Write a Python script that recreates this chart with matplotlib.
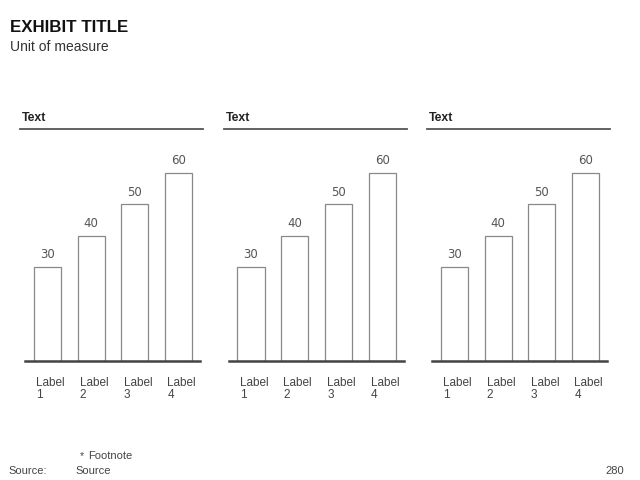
import matplotlib.pyplot as plt
from matplotlib.lines import Line2D

plt.rcParams['font.family'] = ['Liberation Sans', 'DejaVu Sans']

# datos
panel_titles = ["Text", "Text", "Text"]
categories = ["Label\n1", "Label\n2", "Label\n3", "Label\n4"]
values = [30, 40, 50, 60]

W, H = 640, 480
fig = plt.figure(figsize=(6.4, 4.8), dpi=100)


def fx(px):
    return px / W


def fy(py):
    return 1 - py / H


fig.text(fx(10), fy(27), "EXHIBIT TITLE", fontsize=12.2, fontweight="bold",
         color="#111111", va="center", ha="left")
fig.text(fx(10), fy(47), "Unit of measure", fontsize=10, color="#333333",
         va="center", ha="left")

for i, title in enumerate(panel_titles):
    off = i * 203.5
    # cabecera
    fig.text(fx(22 + off), fy(118), title, fontsize=8.8, fontweight="bold",
             color="#222222", va="center", ha="left")
    fig.add_artist(Line2D([fx(20 + off), fx(203 + off)], [fy(129), fy(129)],
                          color="#555555", lw=1.3, transform=fig.transFigure))

    ax = fig.add_axes([fx(25 + off), fy(361), fx(175), (361 - 129) / H])
    x = list(range(len(values)))
    ax.bar(x, values, width=0.62, color="white", edgecolor="#888888", lw=0.9)
    for xi, v in zip(x, values):
        ax.text(xi, v + 1.8, str(v), ha="center", va="bottom", fontsize=8.5,
                color="#555555", family="DejaVu Sans")
    ax.set_xlim(-0.515, 3.49)
    ax.set_ylim(0, 74)
    for s in ["top", "right", "left"]:
        ax.spines[s].set_visible(False)
    ax.spines["bottom"].set_color("#444444")
    ax.spines["bottom"].set_linewidth(1.8)
    ax.set_yticks([])
    ax.set_xticks([])
    for xi, lab in zip(x, categories):
        ax.text(xi - 0.26, -5, lab, ha="left", va="top", fontsize=8.5,
                color="#444444", linespacing=1.05)

fig.text(fx(80), fy(456), "*", fontsize=7.5, color="#444444", va="center")
fig.text(fx(88), fy(456), "Footnote", fontsize=8, color="#444444", va="center")
fig.text(fx(8), fy(471), "Source:", fontsize=8, color="#444444", va="center")
fig.text(fx(75), fy(471), "Source", fontsize=8, color="#444444", va="center")
fig.text(fx(624), fy(471), "280", fontsize=8, color="#444444", va="center",
         ha="right")

fig.savefig("out.png", dpi=100, facecolor="white")
